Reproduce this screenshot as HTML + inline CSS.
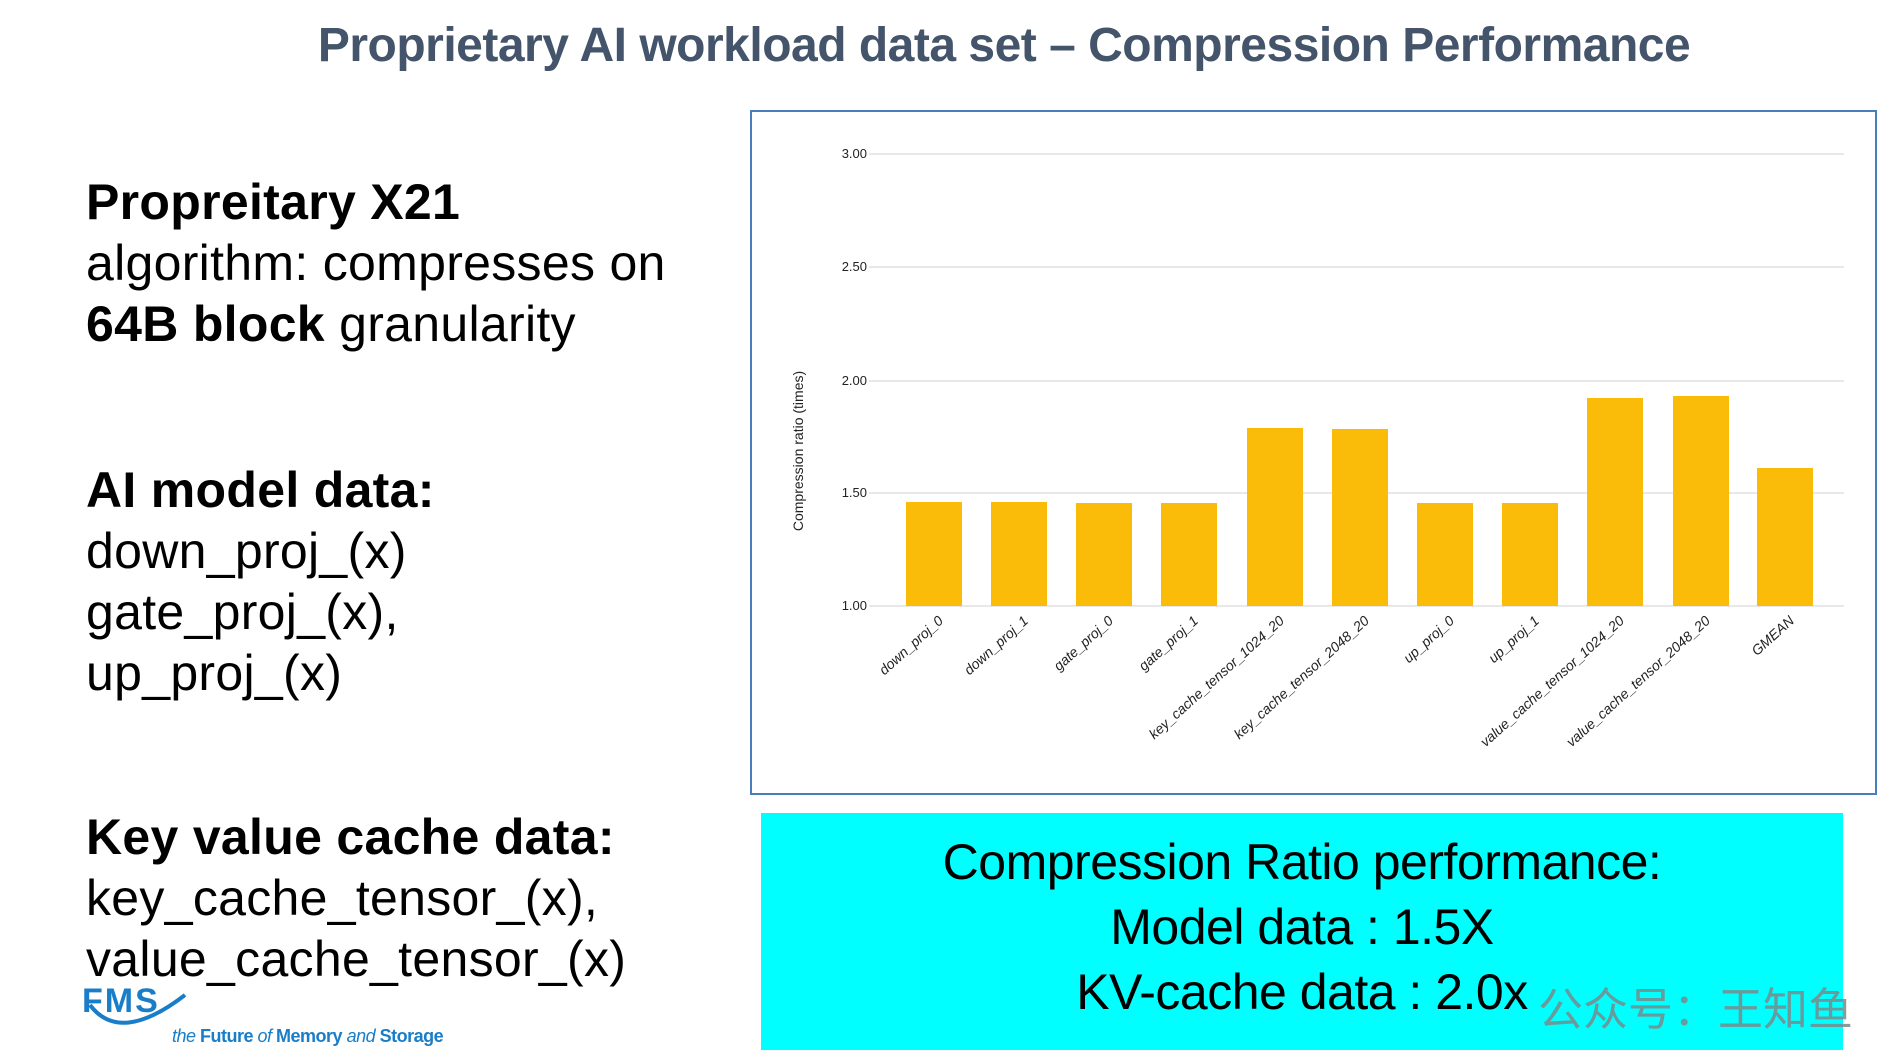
<!DOCTYPE html>
<html><head><meta charset="utf-8"><style>
body{margin:0;width:1891px;height:1062px;background:#fff;position:relative;overflow:hidden;font-family:"Liberation Sans",sans-serif}
.t{position:absolute;white-space:nowrap}
.l{font-size:50px;color:#000;line-height:61px;letter-spacing:0.3px}
</style></head><body>
<div class="t" style="left:0;width:2008px;text-align:center;top:18px;font-size:48px;font-weight:bold;color:#44546a;letter-spacing:-0.5px">Proprietary AI workload data set – Compression Performance</div>

<div class="t l" style="left:86px;top:172px"><b>Propreitary X21</b><br>algorithm: compresses on<br><b>64B block</b> granularity</div>
<div class="t l" style="left:86px;top:460px"><b>AI model data:</b><br>down_proj_(x)<br>gate_proj_(x),<br>up_proj_(x)</div>
<div class="t l" style="left:86px;top:807px"><b>Key value cache data:</b><br>key_cache_tensor_(x),<br>value_cache_tensor_(x)</div>

<svg style="position:absolute;left:0;top:0" width="1891" height="1062">
<rect x="751" y="111" width="1125" height="683" fill="#fff" stroke="#4a7ebb" stroke-width="2"/>
<g transform="translate(-6,0)">
<g stroke="#d9d9d9" stroke-width="1.3">
<line x1="875" x2="1850" y1="154" y2="154"/><line x1="875" x2="1850" y1="267" y2="267"/>
<line x1="875" x2="1850" y1="381" y2="381"/><line x1="875" x2="1850" y1="493" y2="493"/>
<line x1="875" x2="1850" y1="606" y2="606"/></g>
<g font-size="13" fill="#222" text-anchor="end">
<text x="873" y="158">3.00</text><text x="873" y="271">2.50</text><text x="873" y="385">2.00</text><text x="873" y="497">1.50</text><text x="873" y="610">1.00</text></g>
<text transform="translate(809,451) rotate(-90)" font-size="14" text-anchor="middle" fill="#222">Compression ratio (times)</text>
<g fill="#fbbc09">
<rect x="912" y="502" width="56" height="104"/>
<rect x="997" y="502" width="56" height="104"/>
<rect x="1082" y="503" width="56" height="103"/>
<rect x="1167" y="503" width="56" height="103"/>
<rect x="1253" y="428" width="56" height="178"/>
<rect x="1338" y="429" width="56" height="177"/>
<rect x="1423" y="503" width="56" height="103"/>
<rect x="1508" y="503" width="56" height="103"/>
<rect x="1593" y="398" width="56" height="208"/>
<rect x="1679" y="396" width="56" height="210"/>
<rect x="1763" y="468" width="56" height="138"/>
</g>
<g font-size="14" fill="#222" font-style="italic" text-anchor="end">
<text transform="translate(950,622) rotate(-42)">down_proj_0</text>
<text transform="translate(1035,622) rotate(-42)">down_proj_1</text>
<text transform="translate(1120,622) rotate(-42)">gate_proj_0</text>
<text transform="translate(1205,622) rotate(-42)">gate_proj_1</text>
<text transform="translate(1291,622) rotate(-42)">key_cache_tensor_1024_20</text>
<text transform="translate(1376,622) rotate(-42)">key_cache_tensor_2048_20</text>
<text transform="translate(1461,622) rotate(-42)">up_proj_0</text>
<text transform="translate(1546,622) rotate(-42)">up_proj_1</text>
<text transform="translate(1631,622) rotate(-42)">value_cache_tensor_1024_20</text>
<text transform="translate(1717,622) rotate(-42)">value_cache_tensor_2048_20</text>
<text transform="translate(1801,622) rotate(-42)">GMEAN</text>
</g>
</g>
<rect x="761" y="813" width="1082" height="237" fill="#00ffff"/>
<g font-size="50" fill="#000" text-anchor="middle" letter-spacing="-0.5">
<text x="1302" y="879">Compression Ratio performance:</text>
<text x="1302" y="944">Model data : 1.5X</text>
<text x="1302" y="1009">KV-cache data : 2.0x</text>
</g>
<text x="1538" y="1025" font-size="45" fill="#7a8a8a" fill-opacity="0.85" font-family="Noto Sans CJK SC, sans-serif">公众号：王知鱼</text>
<text x="82" y="1012" font-size="34" font-weight="bold" fill="#1a7dc8" letter-spacing="2">FMS</text>
<path d="M90 1005 Q120 1045 185 995" stroke="#1a7dc8" stroke-width="4" fill="none"/>
<text x="172" y="1042" font-size="18" fill="#1a7dc8" font-style="italic" letter-spacing="-0.5">the <tspan font-weight="bold" font-style="normal">Future</tspan> of <tspan font-weight="bold" font-style="normal">Memory</tspan> and <tspan font-weight="bold" font-style="normal">Storage</tspan></text>
</svg>
</body></html>
